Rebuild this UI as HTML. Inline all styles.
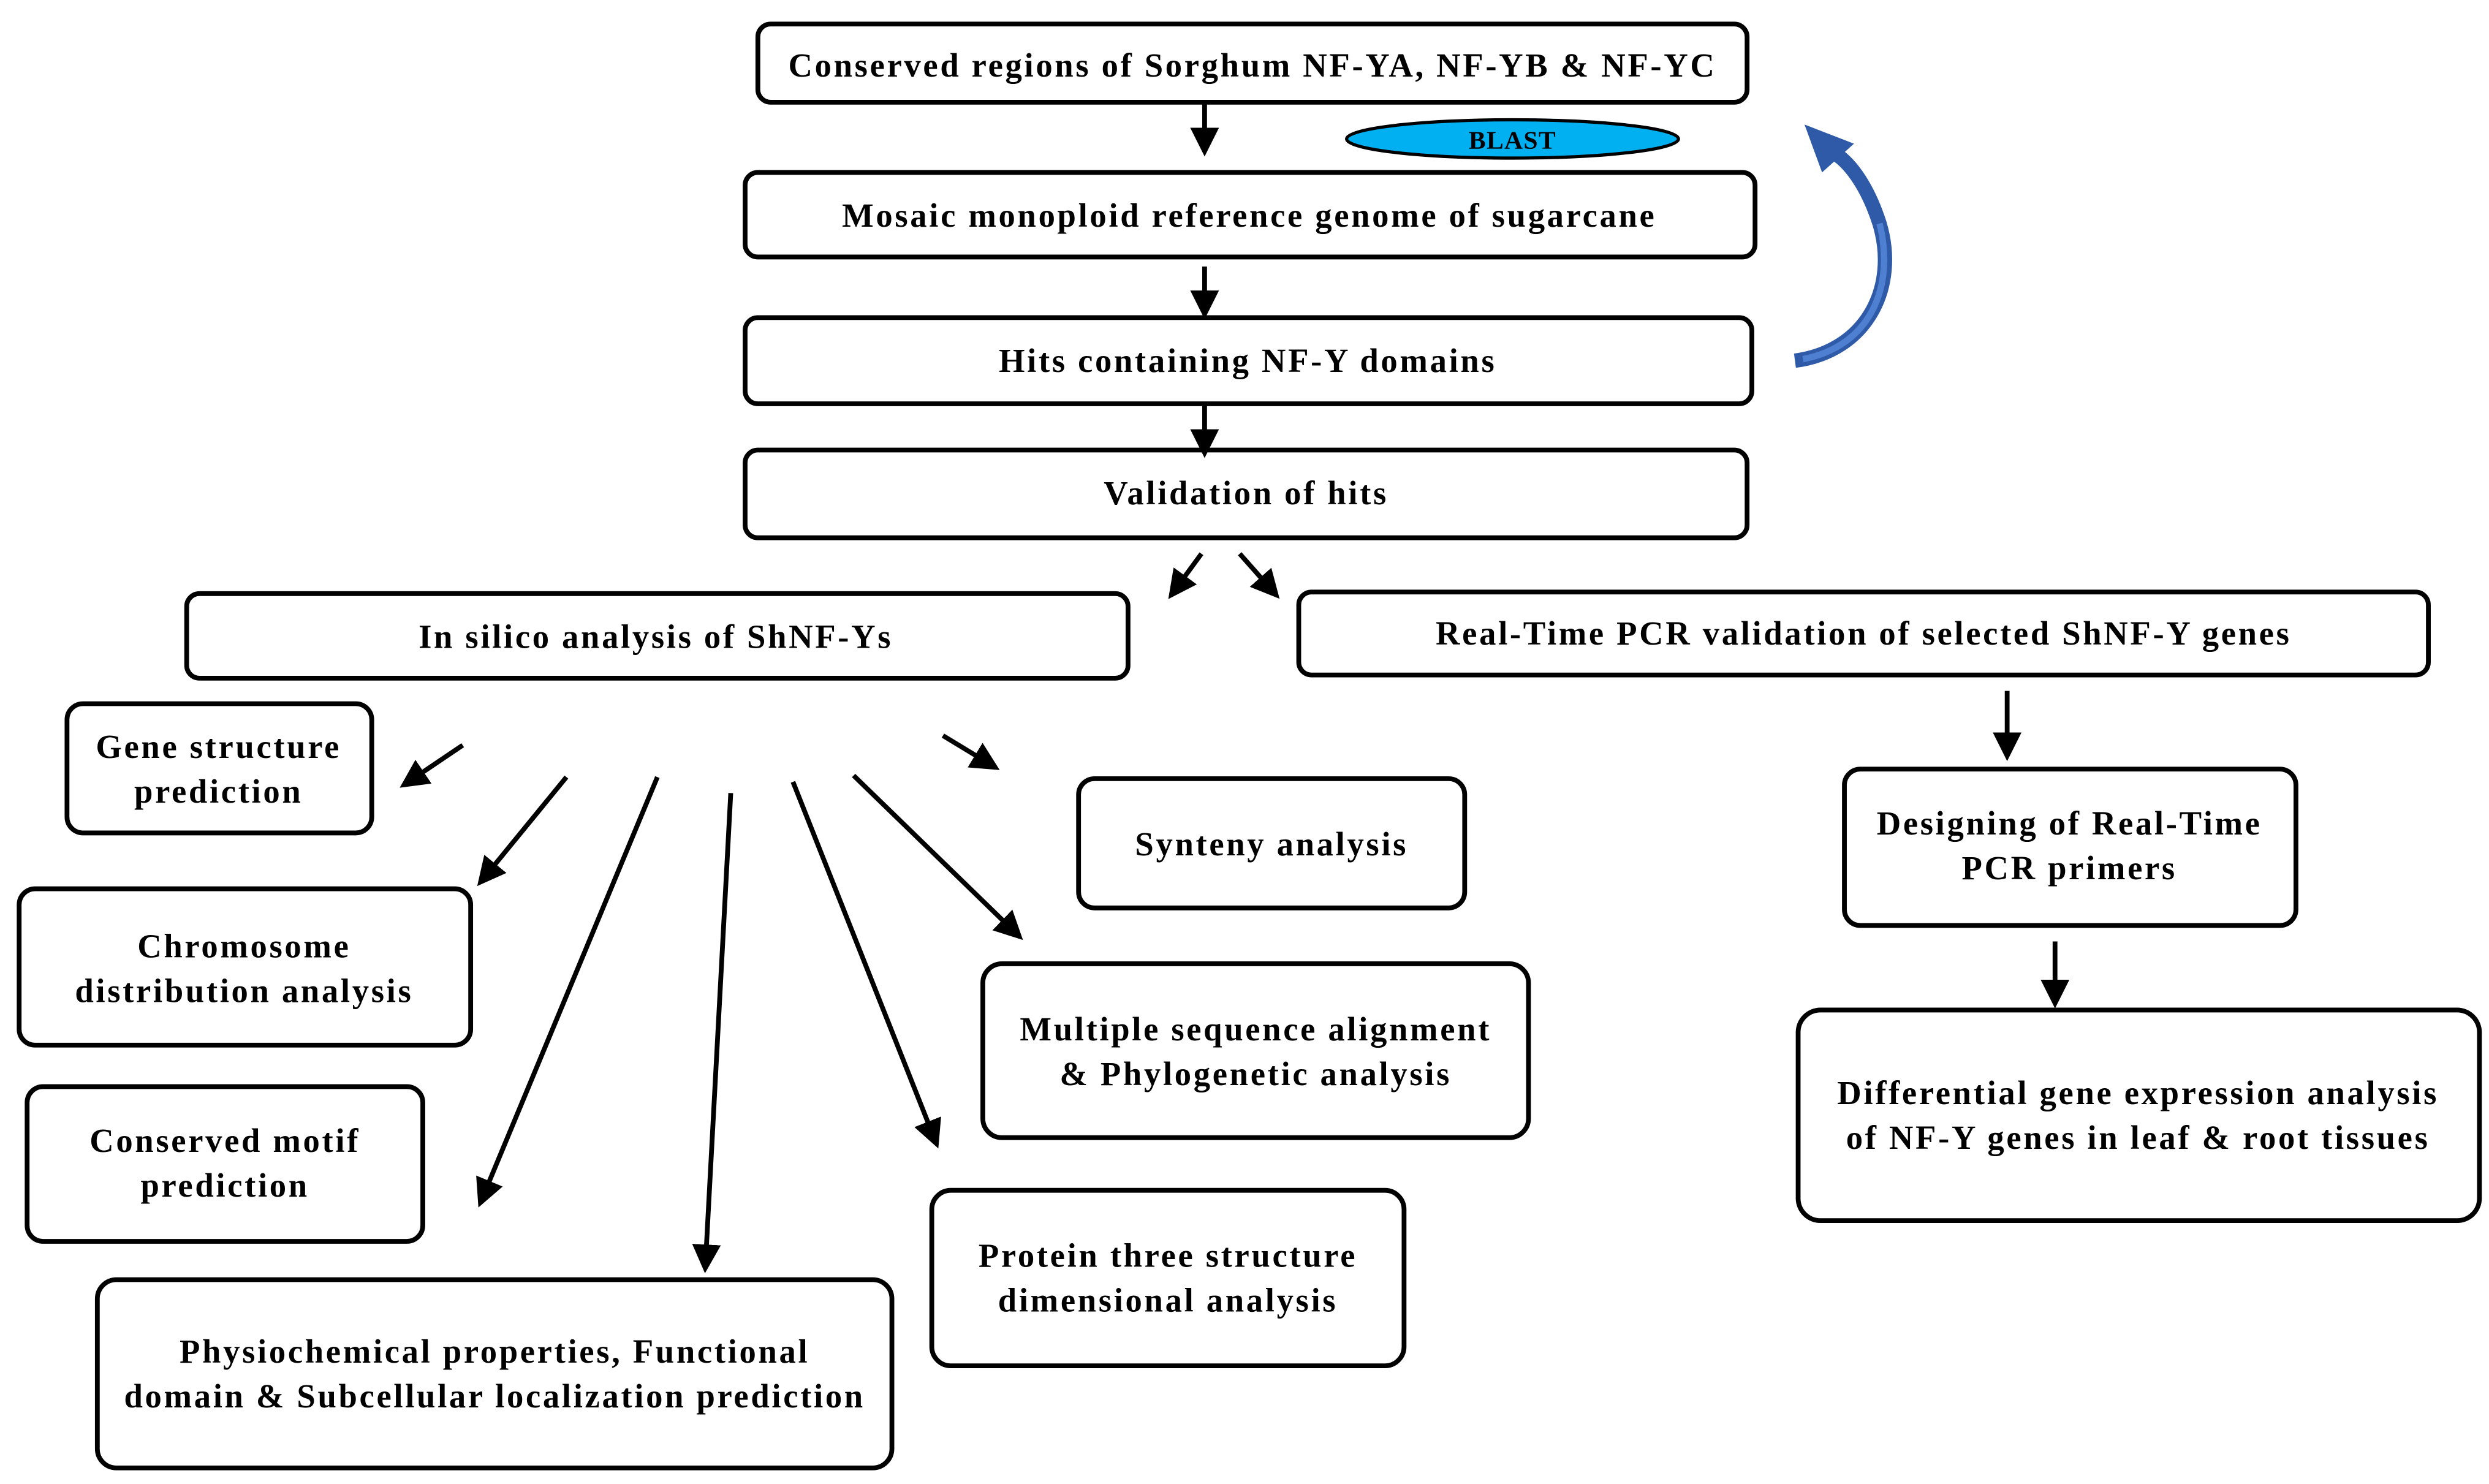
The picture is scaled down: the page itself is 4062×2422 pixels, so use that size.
<!DOCTYPE html>
<html><head><meta charset="utf-8"><style>
html,body{margin:0;padding:0;background:#fff;}
svg{display:block;}
text{font-family:"Liberation Serif",serif;font-weight:bold;font-size:21px;letter-spacing:1.4px;fill:#000;text-anchor:middle;}
</style></head><body>
<svg width="4062" height="2422" viewBox="0 0 1560 930" xmlns="http://www.w3.org/2000/svg">
<defs>
<marker id="ah" markerWidth="6" markerHeight="6" refX="5" refY="3" orient="auto" markerUnits="strokeWidth">
<path d="M0,0 L6,3 L0,6 z" fill="#000"/></marker>
</defs>
<g fill="#fff" stroke="#000" stroke-width="3">
<rect x="475" y="15" width="620" height="49" rx="8"/>
<rect x="467" y="108" width="633" height="53" rx="8"/>
<rect x="467" y="199" width="631" height="54" rx="8"/>
<rect x="467" y="282" width="628" height="55" rx="8"/>
<rect x="117" y="372" width="590" height="53" rx="8"/>
<rect x="814" y="371" width="708" height="52" rx="8"/>
<rect x="42" y="441" width="191" height="81" rx="10"/>
<rect x="12" y="557" width="283" height="98" rx="10"/>
<rect x="17" y="681" width="248" height="97" rx="10"/>
<rect x="61" y="802" width="498" height="118" rx="12"/>
<rect x="676" y="488" width="242" height="81" rx="10"/>
<rect x="616" y="604" width="342" height="109" rx="12"/>
<rect x="584" y="746" width="296" height="110" rx="12"/>
<rect x="1156" y="482" width="283" height="98" rx="10"/>
<rect x="1127" y="633" width="427" height="132" rx="14"/>
</g>
<ellipse cx="948" cy="87" rx="104" ry="12" fill="#00b0f0" stroke="#000" stroke-width="2"/>
<text x="948" y="93" style="font-size:16px;letter-spacing:0.5px">BLAST</text>
<text x="785" y="48">Conserved  regions of Sorghum NF-YA, NF-YB &amp; NF-YC</text>
<text x="783" y="142">Mosaic monoploid reference genome of sugarcane</text>
<text x="782" y="233">Hits containing NF-Y domains</text>
<text x="781" y="316">Validation of hits</text>
<text x="411" y="406">In silico analysis of ShNF-Ys</text>
<text x="1168" y="404">Real-Time PCR validation of selected ShNF-Y genes</text>
<text x="137" y="475">Gene structure</text><text x="137" y="503">prediction</text>
<text x="153" y="600">Chromosome</text><text x="153" y="628">distribution  analysis</text>
<text x="141" y="722">Conserved motif</text><text x="141" y="750">prediction</text>
<text x="310" y="854">Physiochemical properties, Functional</text><text x="310" y="882">domain &amp; Subcellular localization prediction</text>
<text x="797" y="536">Synteny analysis</text>
<text x="787" y="652">Multiple sequence alignment</text><text x="787" y="680">&amp; Phylogenetic analysis</text>
<text x="732" y="794">Protein three structure</text><text x="732" y="822">dimensional analysis</text>
<text x="1297" y="523">Designing of Real-Time</text><text x="1297" y="551">PCR primers</text>
<text x="1340" y="692">Differential gene expression analysis</text><text x="1340" y="720">of NF-Y genes in leaf &amp; root tissues</text>
<g stroke="#000" stroke-width="3" fill="none" marker-end="url(#ah)">
<line x1="755" y1="64" x2="755" y2="95"/>
<line x1="755" y1="167" x2="755" y2="197"/>
<line x1="755" y1="253" x2="755" y2="284"/>
<line x1="753" y1="347" x2="734" y2="373"/>
<line x1="777" y1="347" x2="800" y2="373"/>
<line x1="290" y1="467" x2="253" y2="492"/>
<line x1="355" y1="487" x2="301" y2="553"/>
<line x1="412" y1="487" x2="301" y2="754"/>
<line x1="458" y1="497" x2="442" y2="795"/>
<line x1="497" y1="490" x2="587" y2="717"/>
<line x1="535" y1="486" x2="639" y2="587"/>
<line x1="591" y1="461" x2="624" y2="481"/>
<line x1="1258" y1="433" x2="1258" y2="474"/>
<line x1="1288" y1="590" x2="1288" y2="629"/>
</g>
<path d="M1125,226 C1170,220 1190,180 1178,140 C1170,115 1158,100 1148,95" fill="none" stroke="#2e5aa8" stroke-width="9"/>
<path d="M1130,225 C1172,217 1188,180 1178,140" fill="none" stroke="#4f7fd0" stroke-width="4"/>
<polygon points="1131,78 1162,90 1142,108" fill="#2e5aa8"/>
</svg>
</body></html>
